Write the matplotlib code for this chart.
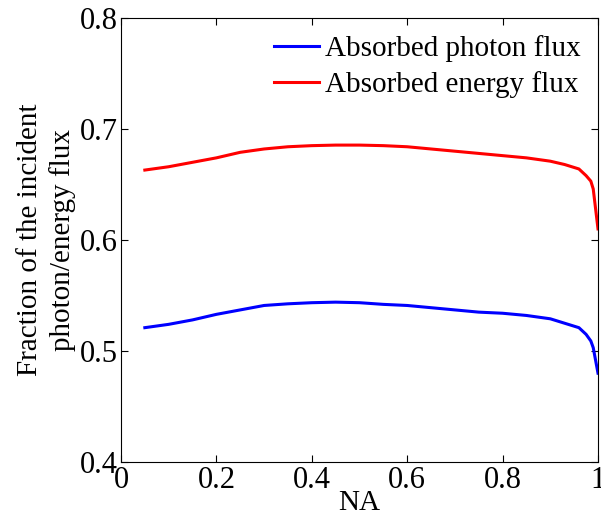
import matplotlib
matplotlib.use('Agg')
from matplotlib import pyplot as plt

na = [0.05, 0.1, 0.15, 0.2, 0.25, 0.3, 0.35, 0.4, 0.45, 0.5, 0.55, 0.6, 0.65,
      0.7, 0.75, 0.8, 0.85, 0.9, 0.93, 0.96, 0.975, 0.985, 0.99, 1.0]
photon_flux = [0.521, 0.524, 0.528, 0.533, 0.537, 0.541, 0.5425, 0.5435, 0.544,
               0.5435, 0.542, 0.541, 0.539, 0.537, 0.535, 0.534, 0.532, 0.529,
               0.525, 0.521, 0.515, 0.509, 0.503, 0.480]
energy_flux = [0.663, 0.666, 0.670, 0.674, 0.679, 0.682, 0.684, 0.685, 0.6855,
               0.6855, 0.685, 0.684, 0.682, 0.680, 0.678, 0.676, 0.674, 0.671,
               0.668, 0.664, 0.658, 0.653, 0.646, 0.610]
labels = ['Absorbed photon flux', 'Absorbed energy flux']

plt.rcParams['font.family'] = ['Liberation Serif', 'DejaVu Serif']
plt.rcParams['font.size'] = 21

fig = plt.figure(figsize=(6.01, 5.22), dpi=100)
ax = fig.add_axes([0.2013, 0.115, 0.7937, 0.8505])

ax.plot(na, photon_flux, color='#0000ff', lw=2.2, label=labels[0])
ax.plot(na, energy_flux, color='#ff0000', lw=2.2, label=labels[1])

ax.set_xlim(0, 1)
ax.set_ylim(0.4, 0.8)
ax.set_xticks([0, 0.2, 0.4, 0.6, 0.8, 1])
ax.set_xticklabels(['0', '0.2', '0.4', '0.6', '0.8', '1'])
ax.set_yticks([0.4, 0.5, 0.6, 0.7, 0.8])
ax.tick_params(direction='in', top=True, right=True, length=5, labelsize=22)
ax.tick_params(axis='y', pad=2)
ax.tick_params(axis='x', pad=3)
ax.set_xlabel('NA', fontsize=21, labelpad=-4)
ax.set_ylabel('Fraction of the incident\nphoton/energy flux', fontsize=21,
              labelpad=3, linespacing=1.3)

ax.legend(loc='upper right', frameon=False, fontsize=21, handlelength=1.55,
          handletextpad=0.2, borderaxespad=0.3, labelspacing=0.3,
          borderpad=0.3)

fig.savefig('out.png', dpi=100)
